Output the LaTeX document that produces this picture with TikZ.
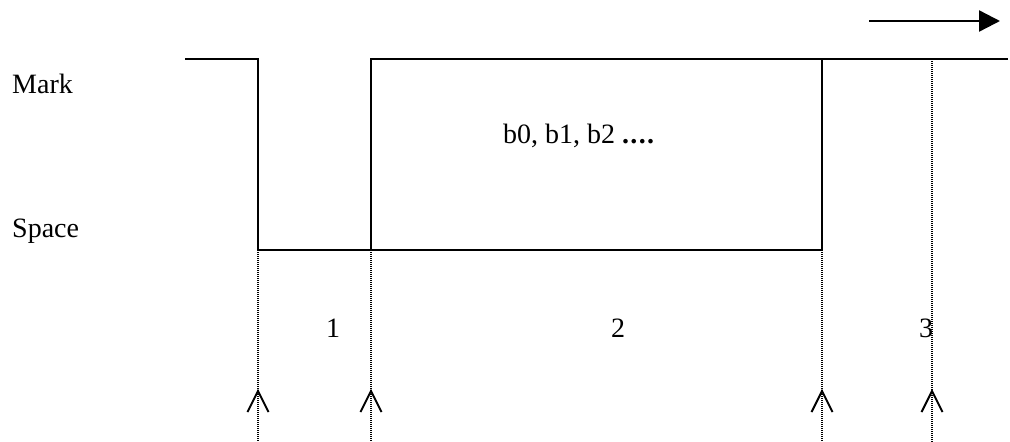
\documentclass[tikz,border=0pt]{standalone}
\usepackage{fontspec}
\setmainfont{Liberation Serif}
\usetikzlibrary{arrows.meta}
\begin{document}
\begin{tikzpicture}[>=stealth,line join=miter,line cap=butt,x=1pt,y=-1pt,
    font=\fontsize{28}{33}\selectfont,
    signal/.style={line width=2.4pt},
    guide/.style={line width=1.2pt,dash pattern=on 1pt off 1pt},
    caret/.style={line width=2pt},
    lbl/.style={anchor=base west,inner sep=0pt}]
				\useasboundingbox (0,0) rectangle (1010,442);
				\coordinate (A) at (185,59);
				\coordinate (B) at (258,59);
				\coordinate (C) at (258,250);
				\coordinate (D) at (371,250);
				\coordinate (E) at (371,59);
				\coordinate (F) at (822,59);
				\coordinate (G) at (822,250);
				\coordinate (H) at (1008,59);
				\draw[signal] (A)--(B)--(C)--(G)--(F);
				\draw[signal] (D)--(E)--(H);
				\draw[signal,-{Triangle[length=21pt,width=21pt]}] (869,21)--(1000,21);
				\node[lbl] (mark) at (12,93) {Mark};
				\node[lbl] (space) at (12,237) {Space};
				\node[lbl] (bits) at (503,143) {b0, b1, b2 \textbf{.\kern1.3pt.\kern1.3pt.\kern1.3pt.}};
				\foreach \x in {258,371,822}
					\draw[guide] (\x,250)--(\x,442);
				\draw[guide] (932,59)--(932,442);
				\foreach \x in {258,371,822,932}
					\draw[caret] (\x-10.5,412)--(\x,391)--(\x+10.5,412);
				\node (one) at (333,328) {1};
				\node (two) at (618,328) {2};
				\node (three) at (926,328) {3};
			\end{tikzpicture}
\end{document}
